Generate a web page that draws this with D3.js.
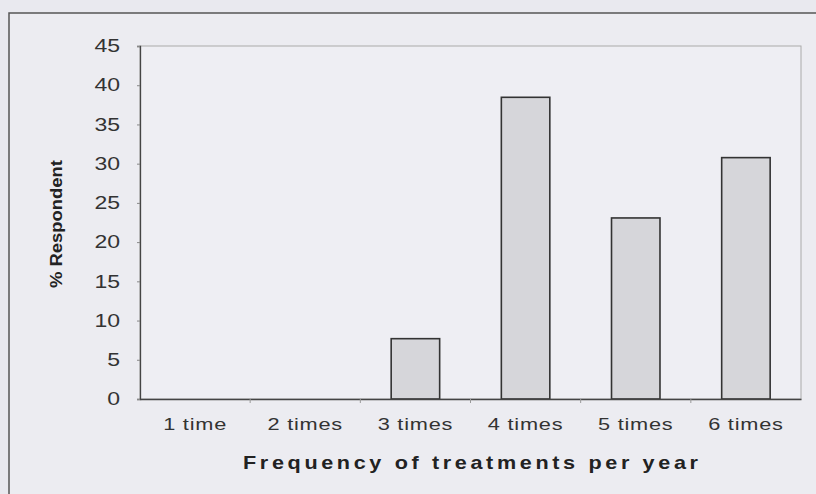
<!DOCTYPE html>
<html><head><meta charset="utf-8">
<script src="https://cdn.jsdelivr.net/npm/d3@7"></script>
<style>
html,body{margin:0;padding:0;background:#e9e9ef;}
svg{display:block;}
</style></head>
<body>
<svg id="chart" width="816" height="494"></svg>
<script>
const categories = ["1 time","2 times","3 times","4 times","5 times","6 times"];
const values = [0, 0, 7.69, 38.46, 23.08, 30.77];
const yTicks = [0,5,10,15,20,25,30,35,40,45];
const xTitle = "Frequency of treatments per year";
const yTitle = "% Respondent";

const svg = d3.select("#chart");
const W = 816, H = 494;
const m = {left:140, right:15, top:46, bottom:95};
const pw = W - m.left - m.right, ph = H - m.top - m.bottom;
const FONT = "Liberation Sans, Arial, sans-serif";
const SX = 1.28;

svg.append("rect").attr("width",W).attr("height",H).attr("fill","#e9e9ef");
// outer frame
svg.append("rect").attr("x",9).attr("y",13).attr("width",812).attr("height",490)
  .attr("fill","#ececf1").attr("stroke","#555").attr("stroke-width",1.5);

const g = svg.append("g").attr("transform",`translate(${m.left},${m.top})`);
const x = d3.scaleBand().domain(categories).range([0,pw]).paddingInner(0.56).paddingOuter(0.28);
const y = d3.scaleLinear().domain([0,45]).range([ph,0]);

// plot area
g.append("rect").attr("width",pw).attr("height",ph).attr("fill","#eeeef3")
  .attr("stroke","#aaa").attr("stroke-width",1);

// bars
const barData = values.map((v,i)=>({c:categories[i],v})).filter(d=>d.v>0);
g.selectAll("rect.bar").data(barData)
  .join("rect").attr("class","bar")
  .attr("x",d=>x(d.c)).attr("width",x.bandwidth())
  .attr("y",d=>y(d.v)).attr("height",d=>ph-y(d.v))
  .attr("fill","#d6d6da").attr("stroke","#333").attr("stroke-width",1.6);

// y axis
const ya = g.append("g").call(d3.axisLeft(y).tickValues(yTicks).tickSize(3).tickPadding(17));
ya.select(".domain").attr("stroke","#444").attr("stroke-width",1.3);
ya.selectAll(".tick line").attr("stroke","#888");
ya.selectAll("text").attr("font-family",FONT).attr("font-size",18)
  .attr("x",-20/SX).attr("transform",`scale(${SX},1)`).attr("fill","#333");

// x axis
const xa = g.append("g").attr("transform",`translate(0,${ph})`)
  .call(d3.axisBottom(x).tickSize(0).tickPadding(19));
xa.select(".domain").attr("stroke","#444").attr("stroke-width",1.3);
xa.selectAll("text").attr("font-family",FONT).attr("font-size",17)
  .attr("letter-spacing","0.6px").attr("transform",`scale(${SX},1)`).attr("fill","#333");
// boundary ticks
g.selectAll("line.bt").data(d3.range(1,categories.length)).join("line").attr("class","bt")
  .attr("x1",i=>x(categories[i]) - (x.step()-x.bandwidth())/2).attr("x2",i=>x(categories[i]) - (x.step()-x.bandwidth())/2)
  .attr("y1",ph).attr("y2",ph+4).attr("stroke","#999");

// titles
svg.append("text").attr("transform",`translate(${m.left+pw/2},469) scale(1.2,1)`).attr("text-anchor","middle")
  .attr("font-family",FONT).attr("font-weight","bold").attr("font-size",18)
  .attr("textLength",455/1.2).attr("lengthAdjust","spacing").attr("fill","#222").text(xTitle);
svg.append("text").attr("transform","translate(62,224) rotate(-90)").attr("text-anchor","middle")
  .attr("font-family",FONT).attr("font-weight","bold").attr("font-size",16)
  .attr("textLength",128).attr("lengthAdjust","spacingAndGlyphs").attr("fill","#222").text(yTitle);
</script>
</body></html>
